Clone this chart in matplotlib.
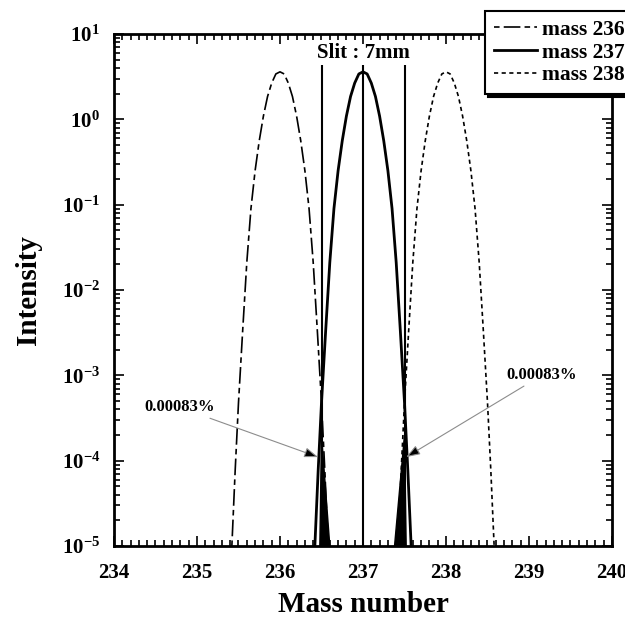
import numpy as np
import matplotlib.pyplot as plt

plt.rcParams['font.family'] = ['Liberation Serif', 'DejaVu Serif']
plt.rcParams['font.weight'] = 'bold'
plt.rcParams['mathtext.fontset'] = 'custom'
plt.rcParams['mathtext.rm'] = 'Liberation Serif:bold'
plt.rcParams['mathtext.bf'] = 'Liberation Serif:bold'
plt.rcParams['mathtext.it'] = 'Liberation Serif:bold'
plt.rcParams['lines.scale_dashes'] = False

# peak profile (offset from peak centre, intensity)
offset = [-0.58, -0.54, -0.50, -0.45, -0.40, -0.35, -0.30, -0.25, -0.20, -0.15, -0.10, -0.05, 0.0,
          0.05, 0.10, 0.15, 0.20, 0.25, 0.30, 0.35, 0.40, 0.45, 0.50, 0.54, 0.58]
inten = [1e-5, 7.7e-5, 4.8e-4, 3.3e-3, 0.021, 0.09, 0.25, 0.56, 1.09, 1.85, 2.66, 3.4, 3.6,
         3.4, 2.66, 1.85, 1.09, 0.56, 0.25, 0.09, 0.021, 3.3e-3, 4.8e-4, 7.7e-5, 1e-5]

centres = [236, 237, 238]
labels = ['mass 236', 'mass 237', 'mass 238']
slit_pos = [236.5, 237.0, 237.5]

# leaked tails inside the slit (filled)
fill_left_x = [236.48, 236.50, 236.60]
fill_left_y = [1e-5, 2e-4, 1e-5]
fill_right_x = [237.38, 237.50, 237.52]
fill_right_y = [1e-5, 2e-4, 1e-5]

fig = plt.figure(figsize=(6.25, 6.21), dpi=100)
ax = fig.add_axes([0.1824, 0.1208, 0.7968, 0.8245])

styles = [dict(color='black', lw=1.2, dashes=(4, 3, 12, 3)),
          dict(color='black', lw=2.0, ls='-'),
          dict(color='black', lw=1.2, dashes=(3, 2.5))]

x_off = np.array(offset)
for c, lab, st in zip(centres, labels, styles):
    ax.plot(x_off + c, inten, label=lab, **st)

ax.fill(fill_left_x, fill_left_y, color='black', lw=1)
ax.fill(fill_right_x, fill_right_y, color='black', lw=1)

ax.vlines(slit_pos, 1e-5, 4.3, color='black', lw=1.5)
ax.text(237.0, 6.0, 'Slit : 7mm', ha='center', va='center', fontsize=15, fontweight='bold')

ap = dict(arrowstyle='-|>,head_length=0.7,head_width=0.25', fc='black', ec='0.55', lw=0.8,
          shrinkA=0, shrinkB=0)
ax.annotate('0.00083%', xy=(236.46, 1.1e-4), xytext=(234.37, 4.2e-4),
            fontsize=12, fontweight='bold', va='center', ha='left', arrowprops=ap)
ax.annotate('0.00083%', xy=(237.52, 1.1e-4), xytext=(238.73, 1.0e-3),
            fontsize=12, fontweight='bold', va='center', ha='left', arrowprops=ap)

ax.set_yscale('log')
ax.set_xlim(234, 240)
ax.set_ylim(1e-5, 10)
ax.set_xticks(np.arange(234, 241, 1))
ax.set_xticks(np.arange(234, 240.01, 0.1), minor=True)
ax.set_yticks([1e-5, 1e-4, 1e-3, 1e-2, 1e-1, 1e0, 1e1])
ax.set_yticklabels([r'$10^{-5}$', r'$10^{-4}$', r'$10^{-3}$', r'$10^{-2}$',
                    r'$10^{-1}$', r'$10^{0}$', r'$10^{1}$'])

ax.tick_params(which='both', direction='in', top=True, right=True, width=1.2)
ax.tick_params(which='major', length=7, labelsize=15, pad=12)
ax.tick_params(which='minor', length=4)
ax.tick_params(axis='y', which='major', pad=10)
for lab in ax.get_xticklabels():
    lab.set_fontweight('bold')
for s in ax.spines.values():
    s.set_linewidth(2)

ax.set_xlabel('Mass number', fontsize=21, fontweight='bold', labelpad=6)
ax.set_ylabel('Intensity', fontsize=21, fontweight='bold', labelpad=14)

leg = ax.legend(loc='upper left', bbox_to_anchor=(0.776, 0.982), bbox_transform=fig.transFigure,
                fontsize=15.5, frameon=True, fancybox=False,
                shadow=dict(ox=2.5, oy=-2.5, color='black', alpha=1),
                handlelength=2.0, labelspacing=0.12, borderaxespad=0, borderpad=0.4,
                handletextpad=0.25)
leg.get_frame().set_edgecolor('black')
leg.get_frame().set_linewidth(1.5)
leg.get_frame().set_alpha(1)

plt.savefig('out.png', dpi=100)
